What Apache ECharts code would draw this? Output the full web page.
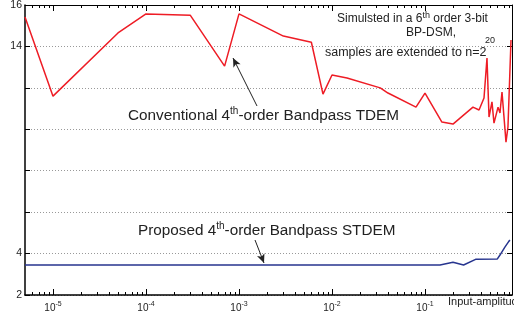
<!DOCTYPE html>
<html>
<head>
<meta charset="utf-8">
<script src="https://cdn.jsdelivr.net/npm/echarts@6/dist/echarts.min.js"></script>
<style>
  html, body { margin: 0; padding: 0; background: #fff; }
  #chart { width: 514px; height: 313px; }
</style>
</head>
<body>
<div id="chart"></div>
<script>
// input amplitude (log scale) and register max value [bit]
var tdemX = [5e-6, 1e-5, 5e-5, 1e-4, 3e-4, 7e-4, 1e-3, 3e-3, 6e-3, 8e-3, 1e-2, 0.0145, 0.033, 0.04,
  0.08, 0.1, 0.152, 0.2, 0.238, 0.328, 0.381, 0.431, 0.464, 0.488, 0.525, 0.552, 0.61, 0.64,
  0.673, 0.707, 0.743, 0.78, 0.841]
var tdemY = [15.42, 11.6, 14.65, 15.57, 15.5, 13.05, 15.57, 14.5, 14.2, 11.7, 12.62, 12.48, 12.0, 11.75,
  11.07, 11.75, 10.35, 10.25, 10.54, 11.07, 10.93, 11.51, 13.44, 10.59, 11.32, 10.3, 11.07, 10.79,
  11.8, 11.85, 9.38, 10.11, 14.31]

var stdemX = [5e-6, 0.145, 0.2, 0.26, 0.35, 0.6, 0.64, 0.72, 0.8, 0.82]
var stdemY = [3.445, 3.445, 3.58, 3.45, 3.72, 3.74, 3.93, 4.3, 4.6, 4.65]

var majorTicks = [1e-5, 1e-4, 1e-3, 1e-2, 1e-1]
var yLabels = [2, 4, 14, 16]

var xMin = 5e-6
var xMax = 0.862
var yMin = 2
var yMax = 16

// 2..9 x 10^n minor tick positions inside the axis range
var minorTicks = []
for (var e = -6; e <= -1; e++) {
  for (var k = 2; k <= 9; k++) {
    var m = k * Math.pow(10, e)
    if (m > xMin && m < xMax) minorTicks.push(m)
  }
}

function pairs(xs, ys) {
  return xs.map(function (x, i) { return [x, ys[i]] })
}

var font = 'Liberation Sans, Arial, sans-serif'

var texts = [
  {
    type: 'text', left: 128, top: 106,
    style: {
      text: 'Conventional 4{s|th}-order Bandpass TDEM',
      font: '15.3px ' + font, fill: '#222',
      rich: { s: { fontSize: 10, fontFamily: font, fill: '#222', verticalAlign: 'top', padding: [0, 0, 10, 0] } }
    }
  },
  {
    type: 'text', left: 138, top: 221,
    style: {
      text: 'Proposed 4{s|th}-order Bandpass STDEM',
      font: '15.3px ' + font, fill: '#222',
      rich: { s: { fontSize: 10, fontFamily: font, fill: '#222', verticalAlign: 'top', padding: [0, 0, 10, 0] } }
    }
  },
  {
    type: 'text', left: 337, top: 11,
    style: {
      text: 'Simulsted in a 6{s|th} order 3-bit',
      font: '12px ' + font, fill: '#222',
      rich: { s: { fontSize: 9, fontFamily: font, fill: '#222', verticalAlign: 'top', padding: [0, 0, 6, 0] } }
    }
  },
  { type: 'text', left: 406, top: 27, style: { text: 'BP-DSM,', font: '12px ' + font, fill: '#222' } },
  { type: 'text', left: 325, top: 46, style: { text: 'samples are extended to n=2', font: '12.5px ' + font, fill: '#222' } },
  { type: 'text', left: 485, top: 36, style: { text: '20', font: '9px ' + font, fill: '#222' } },
  { type: 'text', left: 448, top: 296, style: { text: 'Input-amplitude', font: '11px ' + font, fill: '#222' } }
]

var chart = echarts.init(document.getElementById('chart'))
chart.setOption({
  backgroundColor: '#fff',
  animation: false,
  grid: { left: 25, right: 2, top: 5, bottom: 18, outerBoundsMode: 'none' },
  xAxis: [
    {
      type: 'log',
      min: xMin,
      max: xMax,
      axisLine: { lineStyle: { color: '#000', width: 1.5 } },
      axisTick: { show: false },
      axisLabel: {
        customValues: majorTicks,
        margin: 6,
        formatter: function (val) {
          return '{b|10}{s|' + Math.round(Math.log10(val)) + '}'
        },
        rich: {
          b: { fontSize: 10, fontFamily: font, color: '#222' },
          s: { fontSize: 7, fontFamily: font, color: '#222', verticalAlign: 'top', padding: [0, 0, 7, 0] }
        }
      },
      splitLine: { show: false }
    },
    {
      type: 'log',
      min: xMin,
      max: xMax,
      position: 'top',
      axisLine: { lineStyle: { color: '#000', width: 1 } },
      axisTick: { show: false },
      axisLabel: { show: false },
      splitLine: { show: false }
    }
  ],
  yAxis: [
    {
      type: 'value',
      min: yMin,
      max: yMax,
      interval: 2,
      name: "Register's maximum value, [Bit]",
      nameLocation: 'middle',
      nameGap: 13,
      nameTextStyle: { fontSize: 10.5, fontFamily: font, color: '#222' },
      axisLine: { show: true, lineStyle: { color: '#000', width: 1.5 } },
      axisTick: { show: true, inside: true, length: 5, lineStyle: { color: '#000' } },
      axisLabel: {
        fontSize: 10.5, fontFamily: font, color: '#222', margin: 3,
        formatter: function (v) { return yLabels.indexOf(v) >= 0 ? String(v) : '' }
      },
      splitLine: { show: true, lineStyle: { color: '#999', type: [1, 2], width: 1 } }
    },
    {
      type: 'value',
      min: yMin,
      max: yMax,
      interval: 2,
      position: 'right',
      axisLine: { show: true, lineStyle: { color: '#000', width: 1 } },
      axisTick: { show: true, inside: true, length: 5, lineStyle: { color: '#000' } },
      axisLabel: { show: false },
      splitLine: { show: false }
    }
  ],
  series: [
    {
      name: 'TDEM',
      type: 'line',
      data: pairs(tdemX, tdemY),
      symbol: 'none',
      lineStyle: { color: '#ee1c25', width: 1.5 },
      markLine: {
        silent: true,
        symbol: ['none', 'arrow'],
        symbolSize: [6, 9],
        label: { show: false },
        lineStyle: { color: '#222', width: 1, type: 'solid' },
        data: [
          [{ x: 257, y: 106 }, { x: 233, y: 58 }],
          [{ x: 255, y: 240 }, { x: 264, y: 263 }]
        ]
      }
    },
    {
      name: 'STDEM',
      type: 'line',
      data: pairs(stdemX, stdemY),
      symbol: 'none',
      lineStyle: { color: '#27358f', width: 1.5 }
    }
  ],
  graphic: texts
})

// log x-axis ticks: placed through the chart's own scale, pointing inward on bottom and top
var tickGraphics = []
function addTicks(vals, len) {
  vals.forEach(function (v) {
    var bot = chart.convertToPixel({ xAxisIndex: 0, yAxisIndex: 0 }, [v, yMin])
    var top = chart.convertToPixel({ xAxisIndex: 0, yAxisIndex: 0 }, [v, yMax])
    var x = Math.round(bot[0]) + 0.5
    tickGraphics.push({ type: 'line', silent: true, z: 10, shape: { x1: x, y1: bot[1], x2: x, y2: bot[1] - len }, style: { stroke: '#000', lineWidth: 1 } })
    tickGraphics.push({ type: 'line', silent: true, z: 10, shape: { x1: x, y1: top[1], x2: x, y2: top[1] + len }, style: { stroke: '#000', lineWidth: 1 } })
  })
}
addTicks(majorTicks, 6)
addTicks(minorTicks, 3)

chart.setOption({ graphic: texts.concat(tickGraphics) })
</script>
</body>
</html>
